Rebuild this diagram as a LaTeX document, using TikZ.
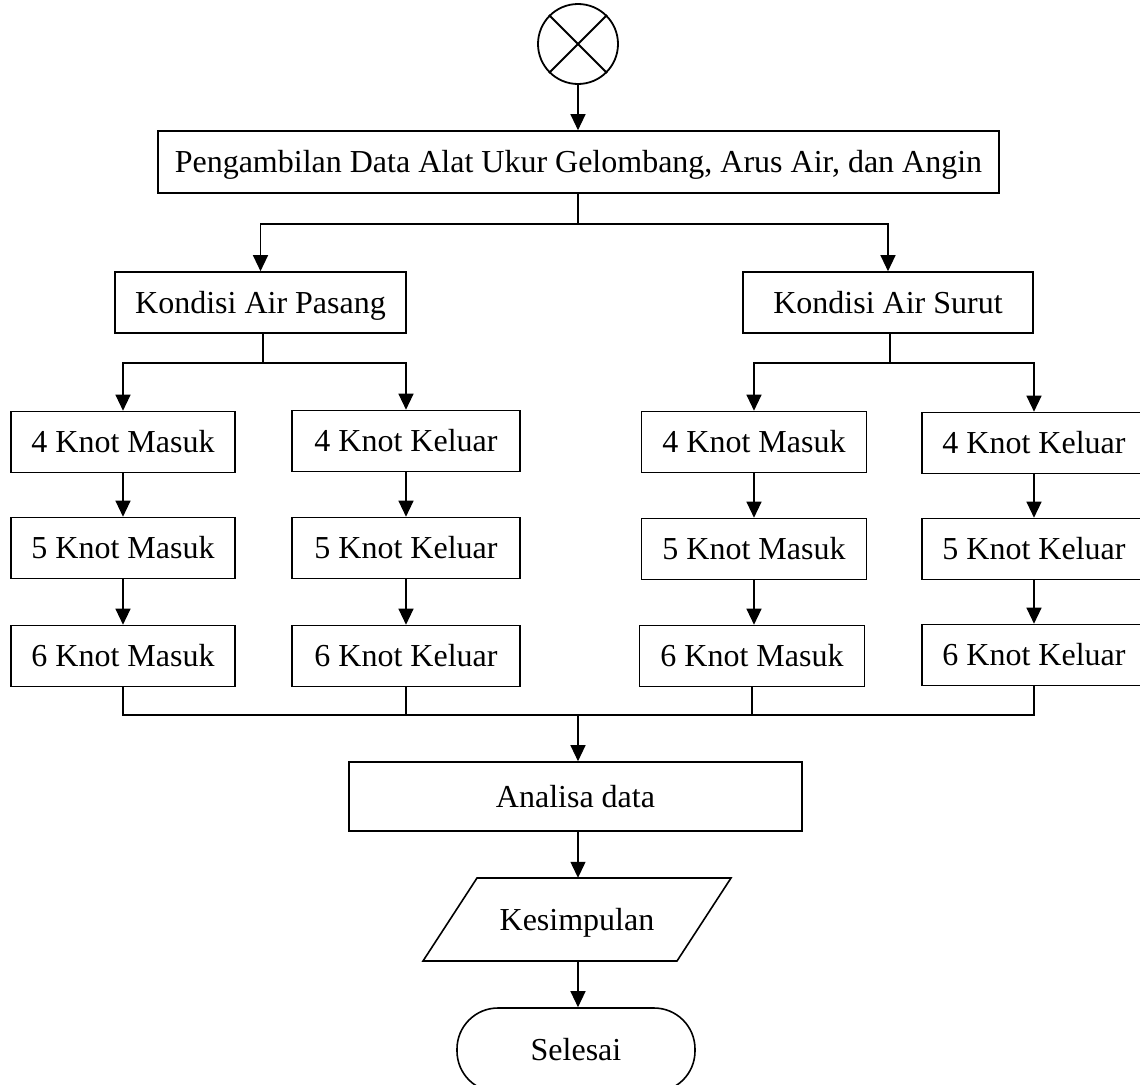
\documentclass[tikz,border=0pt]{standalone}
\usepackage{fontspec}
\setmainfont{Liberation Serif}
\usetikzlibrary{arrows.meta}
\begin{document}
\begin{tikzpicture}[x=1pt,y=-1pt,
  txt/.style={inner sep=0pt, font=\fontsize{32}{38}\selectfont, text height=21pt, text depth=0pt},
  box/.style={txt, draw, line width=1.6pt, rectangle},
  kbox/.style={box, minimum height=61pt},
  line/.style={line width=1.2pt},
  arr/.style={line, -{Triangle[width=15pt,length=16pt]}}]
\clip (0,0) rectangle (1140,1084);
\useasboundingbox (0,0) rectangle (1140,1084);

% start symbol
\node[draw, circle, line width=1.8pt, minimum size=80pt, inner sep=0pt] (start) at (578,44) {};
\draw[line width=1.8pt] (start.north west) -- (start.south east);
\draw[line width=1.8pt] (start.north east) -- (start.south west);

\node[box, minimum width=841pt, minimum height=62pt] (top) at (578.5,162) {Pengambilan Data Alat Ukur Gelombang, Arus Air, dan Angin};

\node[kbox, minimum width=291pt] (kp) at (260.5,302.5) {Kondisi Air Pasang};
\node[kbox, minimum width=290pt] (ks) at (888,302.5) {Kondisi Air Surut};

% columns
\node[kbox, minimum width=224pt] (a1) at (123,442) {4 Knot Masuk};
\node[kbox, minimum width=224pt] (a2) at (123,548) {5 Knot Masuk};
\node[kbox, minimum width=224pt] (a3) at (123,656) {6 Knot Masuk};

\node[kbox, minimum width=228pt] (b1) at (406,441) {4 Knot Keluar};
\node[kbox, minimum width=228pt] (b2) at (406,548) {5 Knot Keluar};
\node[kbox, minimum width=228pt] (b3) at (406,656) {6 Knot Keluar};

\node[kbox, minimum width=225pt] (c1) at (754,442) {4 Knot Masuk};
\node[kbox, minimum width=225pt] (c2) at (754,549) {5 Knot Masuk};
\node[kbox, minimum width=225pt] (c3) at (752,656) {6 Knot Masuk};

\node[kbox, minimum width=224pt] (d1) at (1034,443) {4 Knot Keluar};
\node[kbox, minimum width=224pt] (d2) at (1034,549) {5 Knot Keluar};
\node[kbox, minimum width=224pt] (d3) at (1034,655) {6 Knot Keluar};

\node[box, minimum width=453pt, minimum height=69pt] (ana) at (575.5,796.5) {Analisa data};

\node[txt, minimum width=200pt, minimum height=83pt] (kes) at (577,919.5) {Kesimpulan};
\draw[line width=1.6pt] (423,961) -- (477,878) -- (731,878) -- (677,961) -- cycle;

\node[txt, draw, line width=1.6pt, rectangle, rounded corners=41pt, minimum width=238pt, minimum height=84pt] (sel) at (576,1050) {Selesai};

% connectors
\draw[arr] (start) -- (start |- top.north);

\coordinate (s1) at (578,224);
\draw[line] (top.south -| s1) -- (s1);
\draw[arr] (s1) -| (kp.north);
\draw[arr] (s1) -| (ks.north);

\coordinate (s2) at (263,363);
\draw[line] (kp.south -| s2) -- (s2);
\draw[arr] (s2) -| (a1.north);
\draw[arr] (s2) -| (b1.north);

\coordinate (s3) at (890,363);
\draw[line] (ks.south -| s3) -- (s3);
\draw[arr] (s3) -| (c1.north);
\draw[arr] (s3) -| (d1.north);

\draw[arr] (a1) -- (a2);
\draw[arr] (a2) -- (a3);
\draw[arr] (b1) -- (b2);
\draw[arr] (b2) -- (b3);
\draw[arr] (c1) -- (c2);
\draw[arr] (c2.south) -- (c2.south |- c3.north);
\draw[arr] (d1) -- (d2);
\draw[arr] (d2) -- (d3);

\coordinate (m) at (578,715);
\draw[line] (a3.south) -- (a3.south |- m) -- (d3.south |- m) -- (d3.south);
\draw[line] (b3.south) -- (b3.south |- m);
\draw[line] (c3.south) -- (c3.south |- m);
\draw[arr] (m) -- (m |- ana.north);

\draw[arr] (ana.south -| m) -- (kes.north -| m);
\draw[arr] (kes.south -| m) -- (sel.north -| m);
\end{tikzpicture}
\end{document}
